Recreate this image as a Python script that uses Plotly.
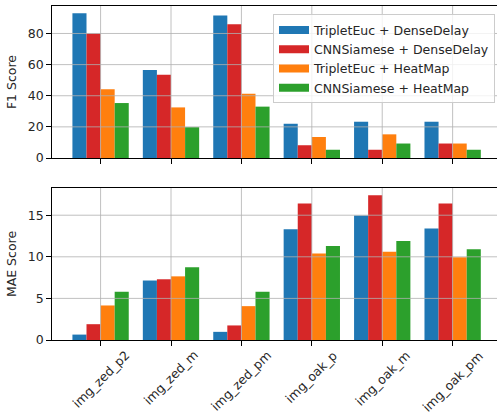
import plotly.graph_objects as go
from plotly.subplots import make_subplots

categories = ["img_zed_p2", "img_zed_m", "img_zed_pm", "img_oak_p", "img_oak_m", "img_oak_pm"]
series_names = ["TripletEuc + DenseDelay", "CNNSiamese + DenseDelay",
                "TripletEuc + HeatMap", "CNNSiamese + HeatMap"]
colors = ["#1f77b4", "#d62728", "#ff7f0e", "#2ca02c"]

f1_triplet_dense = [93.0, 56.5, 91.5, 22.0, 23.3, 23.3]
f1_cnn_dense = [80.0, 53.5, 86.0, 8.2, 5.3, 9.3]
f1_triplet_heat = [44.2, 32.5, 41.3, 13.5, 15.2, 9.3]
f1_cnn_heat = [35.3, 19.8, 33.0, 5.3, 9.3, 5.3]

mae_triplet_dense = [0.65, 7.15, 0.98, 13.3, 14.95, 13.4]
mae_cnn_dense = [1.9, 7.3, 1.75, 16.4, 17.4, 16.4]
mae_triplet_heat = [4.15, 7.65, 4.07, 10.4, 10.6, 9.95]
mae_cnn_heat = [5.8, 8.75, 5.8, 11.3, 11.9, 10.9]

f1_series = [f1_triplet_dense, f1_cnn_dense, f1_triplet_heat, f1_cnn_heat]
mae_series = [mae_triplet_dense, mae_cnn_dense, mae_triplet_heat, mae_cnn_heat]

f1_ticks = [0, 20, 40, 60, 80]
mae_ticks = [0, 5, 10, 15]

FONT = "DejaVu Sans"
FS = 12.5
GRID = "#b0b0b0"
TXT = "#262626"

fig = make_subplots(rows=2, cols=1, vertical_spacing=30 / 334)

for name, col, vals in zip(series_names, colors, f1_series):
    fig.add_trace(go.Bar(x=categories, y=vals, marker=dict(color=col, line=dict(width=0)),
                         name=name, showlegend=False), row=1, col=1)
for name, col, vals in zip(series_names, colors, mae_series):
    fig.add_trace(go.Bar(x=categories, y=vals, marker=dict(color=col, line=dict(width=0)),
                         name=name, showlegend=False), row=2, col=1)
# legend entries as wide patches
for name, col in zip(series_names, colors):
    fig.add_trace(go.Scatter(x=[None], y=[None], mode="lines", name=name,
                             line=dict(color=col, width=8), showlegend=True), row=1, col=1)

xr = [-0.69, 5.63]
axis_common = dict(showline=True, linecolor="black", linewidth=0.8, ticks="outside",
                   ticklen=5, tickwidth=0.8, tickcolor="black", showgrid=False,
                   zeroline=False, automargin=False,
                   tickfont=dict(family=FONT, size=FS, color=TXT))
fig.update_xaxes(range=xr, mirror=True, showticklabels=False, **axis_common)
fig.update_yaxes(mirror=False, **axis_common)
fig.update_yaxes(range=[0, 97.65], tickvals=f1_ticks,
                 title=dict(text="F1 Score", standoff=8, font=dict(family=FONT, size=FS, color=TXT)),
                 row=1, col=1)
fig.update_yaxes(range=[0, 18.27], tickvals=mae_ticks,
                 title=dict(text="MAE Score", standoff=8, font=dict(family=FONT, size=FS, color=TXT)),
                 row=2, col=1)

# category labels rotated 45 degrees, centred under each tick (matplotlib style)
for cat in categories:
    fig.add_annotation(x=cat, xref="x2", y=0, yref="y2 domain", text=cat, showarrow=False,
                       textangle=-45, xanchor="center", yanchor="top", yshift=-5,
                       font=dict(family=FONT, size=FS, color=TXT))

shapes = []
for xref, yref, ticks in [("x", "y", f1_ticks), ("x2", "y2", mae_ticks)]:
    for t in ticks[1:]:
        shapes.append(dict(type="line", xref=f"{xref} domain", yref=yref, x0=0, x1=1, y0=t, y1=t,
                           line=dict(color=GRID, width=0.8), layer="above"))
    for i in range(len(categories)):
        shapes.append(dict(type="line", xref=xref, yref=f"{yref} domain", x0=i, x1=i, y0=0, y1=1,
                           line=dict(color=GRID, width=0.8), layer="above"))

fig.update_layout(
    width=498, height=415,
    margin=dict(l=52, r=1, t=6, b=75),
    barmode="group", bargap=0.2, bargroupgap=0,
    plot_bgcolor="white", paper_bgcolor="white",
    font=dict(family=FONT, size=FS, color=TXT),
    shapes=shapes,
    legend=dict(x=0.9955, y=0.975, xanchor="right", yanchor="top",
                bgcolor="rgba(255,255,255,0.8)", bordercolor="#cccccc", borderwidth=1,
                font=dict(family=FONT, size=FS, color=TXT), tracegroupgap=0,
                itemwidth=30),
)

fig.write_html("out.html", config={"displayModeBar": False},
               post_script="document.body.style.margin='0';document.body.style.overflow='hidden';")
